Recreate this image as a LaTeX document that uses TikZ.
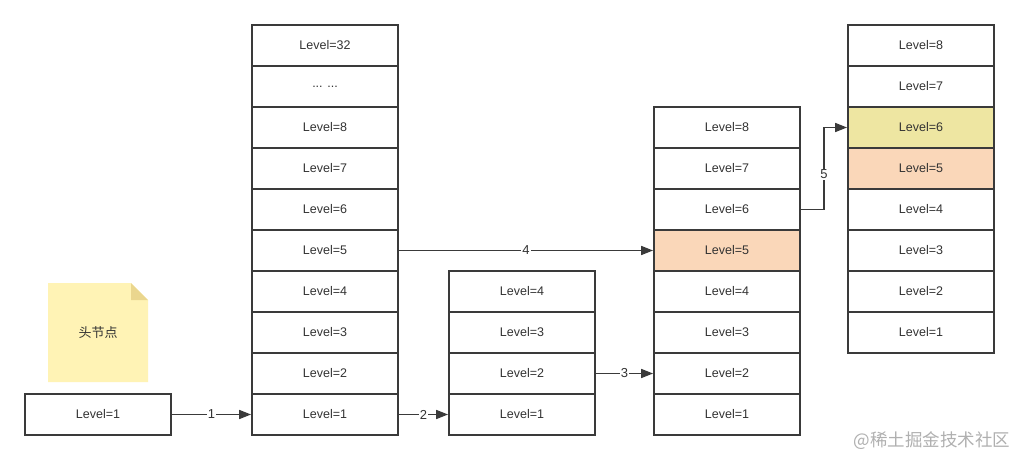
\documentclass[tikz,border=0pt]{standalone}
\usepackage{fontspec}
\setmainfont{Liberation Sans}
\newfontfamily\cjk{Noto Sans CJK SC}
\usetikzlibrary{arrows.meta}
\definecolor{linec}{HTML}{3A3A3A}
\definecolor{orangec}{HTML}{FAD7B9}
\definecolor{yellowc}{HTML}{EEE6A2}
\definecolor{notec}{HTML}{FFF3B5}
\definecolor{foldc}{HTML}{EAD68E}
\definecolor{wmc}{HTML}{B0B0B0}
\begin{document}
\begin{tikzpicture}[x=1pt,y=-1pt,
  cell/.style={draw=linec,line width=1.8pt,rectangle,minimum width=146pt,minimum height=41pt,inner sep=0pt,font=\fontsize{12.5}{14}\selectfont,text=black!80},
  conn/.style={draw=linec,line width=1.6pt,-{Triangle[length=12pt,width=9pt]}},
  lab/.style={fill=white,inner sep=1pt,font=\fontsize{13}{14}\selectfont,text=black!80}]
\useasboundingbox[fill=white] (0,0) rectangle (1019,460);
% note
\fill[notec] (48,283) -- (131,283) -- (148,300) -- (148,382) -- (48,382) -- cycle;
\fill[foldc] (131,283) -- (148,300) -- (131,300) -- cycle;
\node[font=\cjk\fontsize{13}{14}\selectfont,text=black!80] (note) at (98,333) {头节点};
% head
\node[cell] (head) at (98,414.5) {Level=1};
% column A
\node[cell] (a32) at (325,45.5) {Level=32};
\node[cell] (adots) at (325,86.5) {... ...};
\node[cell] (a8) at (325,127.5) {Level=8};
\node[cell] (a7) at (325,168.5) {Level=7};
\node[cell] (a6) at (325,209.5) {Level=6};
\node[cell] (a5) at (325,250.5) {Level=5};
\node[cell] (a4) at (325,291.5) {Level=4};
\node[cell] (a3) at (325,332.5) {Level=3};
\node[cell] (a2) at (325,373.5) {Level=2};
\node[cell] (a1) at (325,414.5) {Level=1};
% column B
\node[cell] (b4) at (522,291.5) {Level=4};
\node[cell] (b3) at (522,332.5) {Level=3};
\node[cell] (b2) at (522,373.5) {Level=2};
\node[cell] (b1) at (522,414.5) {Level=1};
% column C
\node[cell] (c8) at (727,127.5) {Level=8};
\node[cell] (c7) at (727,168.5) {Level=7};
\node[cell] (c6) at (727,209.5) {Level=6};
\node[cell,fill=orangec] (c5) at (727,250.5) {Level=5};
\node[cell] (c4) at (727,291.5) {Level=4};
\node[cell] (c3) at (727,332.5) {Level=3};
\node[cell] (c2) at (727,373.5) {Level=2};
\node[cell] (c1) at (727,414.5) {Level=1};
% column D
\node[cell] (d8) at (921,45.5) {Level=8};
\node[cell] (d7) at (921,86.5) {Level=7};
\node[cell,fill=yellowc] (d6) at (921,127.5) {Level=6};
\node[cell,fill=orangec] (d5) at (921,168.5) {Level=5};
\node[cell] (d4) at (921,209.5) {Level=4};
\node[cell] (d3) at (921,250.5) {Level=3};
\node[cell] (d2) at (921,291.5) {Level=2};
\node[cell] (d1) at (921,332.5) {Level=1};
% connectors
\draw[conn] (head.east) -- node[lab] {1} (a1.west);
\draw[conn] (a1.east) -- node[lab] {2} (b1.west);
\draw[conn] (b2.east) -- node[lab] {3} (c2.west);
\draw[conn] (a5.east) -- node[lab] {4} (c5.west);
\coordinate (bend1) at (824,209.5);
\coordinate (bend2) at (824,127.5);
\draw[conn] (c6.east) -- (bend1) -- node[lab,pos=0.43] {5} (bend2) -- (d6.west);
% watermark
\node[font=\cjk\fontsize{17.5}{18}\selectfont,text=wmc,anchor=east] (wm) at (1014,441) {@稀土掘金技术社区};
\end{tikzpicture}
\end{document}
